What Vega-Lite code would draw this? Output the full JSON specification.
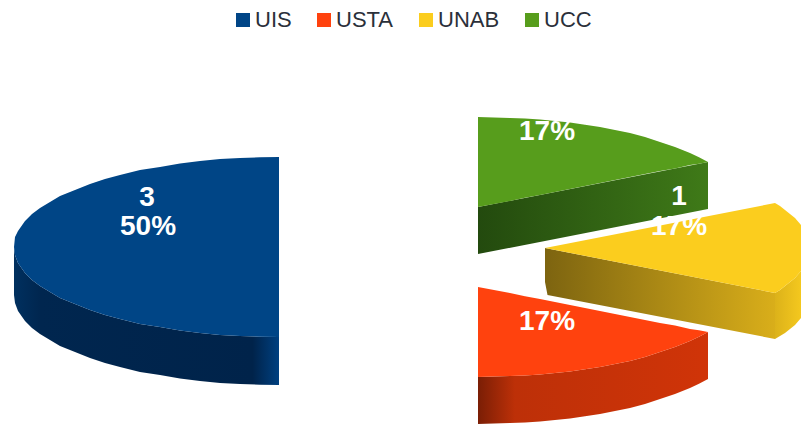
{"$schema":"https://vega.github.io/schema/vega-lite/v6.json","width":801,"height":426,"padding":0,"autosize":"none","background":"white","config":{"view":{"stroke":null}},
"datasets":{"faces":[
{"series":"UIS","x":14,"y0":247,"y1":247},{"series":"UIS","x":15,"y0":237,"y1":255},{"series":"UIS","x":18,"y0":231,"y1":263},{"series":"UIS","x":25,"y0":221,"y1":273},{"series":"UIS","x":32,"y0":214,"y1":280},{"series":"UIS","x":40,"y0":208,"y1":286},{"series":"UIS","x":50,"y0":202,"y1":292},{"series":"UIS","x":60,"y0":196,"y1":298},{"series":"UIS","x":75,"y0":190,"y1":304},{"series":"UIS","x":90,"y0":184,"y1":310},{"series":"UIS","x":105,"y0":179,"y1":315},{"series":"UIS","x":120,"y0":175,"y1":319},{"series":"UIS","x":140,"y0":170,"y1":324},{"series":"UIS","x":160,"y0":167,"y1":327},{"series":"UIS","x":180,"y0":163.5,"y1":330.5},{"series":"UIS","x":200,"y0":161,"y1":333},{"series":"UIS","x":220,"y0":159,"y1":335},{"series":"UIS","x":240,"y0":158,"y1":336},{"series":"UIS","x":260,"y0":157.3,"y1":336.7},{"series":"UIS","x":279,"y0":157,"y1":337},
{"series":"UCC","x":478,"y0":117,"y1":207},{"series":"UCC","x":510,"y0":118,"y1":201},{"series":"UCC","x":525,"y0":118.4,"y1":197.8},{"series":"UCC","x":540,"y0":119.5,"y1":195},{"series":"UCC","x":555,"y0":120.9,"y1":191.9},{"series":"UCC","x":570,"y0":122.6,"y1":189},{"series":"UCC","x":585,"y0":124.7,"y1":186},{"series":"UCC","x":600,"y0":127,"y1":183},{"series":"UCC","x":615,"y0":130,"y1":180},{"series":"UCC","x":630,"y0":133,"y1":177},{"series":"UCC","x":645,"y0":137,"y1":174},{"series":"UCC","x":660,"y0":142,"y1":171},{"series":"UCC","x":675,"y0":147,"y1":168.4},{"series":"UCC","x":690,"y0":153,"y1":165},{"series":"UCC","x":699,"y0":157.3,"y1":163.7},{"series":"UCC","x":708,"y0":162,"y1":162},
{"series":"USTA","x":478,"y0":287,"y1":377},{"series":"USTA","x":510,"y0":293,"y1":376},{"series":"USTA","x":525,"y0":296.2,"y1":375.6},{"series":"USTA","x":540,"y0":299,"y1":374.5},{"series":"USTA","x":555,"y0":302.1,"y1":373.1},{"series":"USTA","x":570,"y0":305,"y1":371.4},{"series":"USTA","x":585,"y0":308,"y1":369.3},{"series":"USTA","x":600,"y0":311,"y1":367},{"series":"USTA","x":615,"y0":314,"y1":364},{"series":"USTA","x":630,"y0":317,"y1":361},{"series":"USTA","x":645,"y0":320,"y1":357},{"series":"USTA","x":660,"y0":323,"y1":352},{"series":"USTA","x":675,"y0":325.6,"y1":347},{"series":"USTA","x":690,"y0":329,"y1":341},{"series":"USTA","x":699,"y0":330.3,"y1":336.7},{"series":"USTA","x":708,"y0":332,"y1":332},
{"series":"UNAB","x":545,"y0":248,"y1":248},{"series":"UNAB","x":775,"y0":203,"y1":293},{"series":"UNAB","x":780,"y0":206,"y1":290},{"series":"UNAB","x":785,"y0":210,"y1":286},{"series":"UNAB","x":790,"y0":214,"y1":282},{"series":"UNAB","x":795,"y0":218,"y1":278},{"series":"UNAB","x":801,"y0":225,"y1":271}
],
"sides":[
{"part":"UIS","x":14,"y0":247,"y1":295},{"part":"UIS","x":15,"y0":255,"y1":303},{"part":"UIS","x":18,"y0":263,"y1":311},{"part":"UIS","x":25,"y0":273,"y1":321},{"part":"UIS","x":32,"y0":280,"y1":328},{"part":"UIS","x":40,"y0":286,"y1":334},{"part":"UIS","x":50,"y0":292,"y1":340},{"part":"UIS","x":60,"y0":298,"y1":346},{"part":"UIS","x":75,"y0":304,"y1":352},{"part":"UIS","x":90,"y0":310,"y1":358},{"part":"UIS","x":105,"y0":315,"y1":363},{"part":"UIS","x":120,"y0":319,"y1":367},{"part":"UIS","x":140,"y0":324,"y1":372},{"part":"UIS","x":160,"y0":327,"y1":375},{"part":"UIS","x":180,"y0":330.5,"y1":378.5},{"part":"UIS","x":200,"y0":333,"y1":381},{"part":"UIS","x":220,"y0":335,"y1":383},{"part":"UIS","x":240,"y0":336,"y1":384},{"part":"UIS","x":260,"y0":336.7,"y1":384.7},{"part":"UIS","x":279,"y0":337,"y1":385},
{"part":"UCC","x":478,"y0":207,"y1":254},{"part":"UCC","x":708,"y0":162,"y1":209},
{"part":"USTA","x":478,"y0":377,"y1":424},{"part":"USTA","x":510,"y0":376,"y1":423},{"part":"USTA","x":525,"y0":375.6,"y1":422.6},{"part":"USTA","x":540,"y0":374.5,"y1":421.5},{"part":"USTA","x":555,"y0":373.1,"y1":420.1},{"part":"USTA","x":570,"y0":371.4,"y1":418.4},{"part":"USTA","x":585,"y0":369.3,"y1":416.3},{"part":"USTA","x":600,"y0":367,"y1":414},{"part":"USTA","x":615,"y0":364,"y1":411},{"part":"USTA","x":630,"y0":361,"y1":408},{"part":"USTA","x":645,"y0":357,"y1":404},{"part":"USTA","x":660,"y0":352,"y1":399},{"part":"USTA","x":675,"y0":347,"y1":394},{"part":"USTA","x":690,"y0":341,"y1":388},{"part":"USTA","x":699,"y0":336.7,"y1":383.7},{"part":"USTA","x":708,"y0":332,"y1":379},
{"part":"UNAB front","x":545,"y0":248,"y1":282},{"part":"UNAB front","x":547.5,"y0":248.5,"y1":295},{"part":"UNAB front","x":775,"y0":293,"y1":339},
{"part":"UNAB edge","x":775,"y0":293,"y1":339},{"part":"UNAB edge","x":780,"y0":290,"y1":336},{"part":"UNAB edge","x":785,"y0":286,"y1":333},{"part":"UNAB edge","x":790,"y0":282,"y1":329},{"part":"UNAB edge","x":795,"y0":278,"y1":325},{"part":"UNAB edge","x":801,"y0":271,"y1":318}
],
"labels":[
{"label":"3","x":147,"y":198},{"label":"50%","x":148,"y":227},
{"label":"17%","x":547,"y":132},
{"label":"1","x":679,"y":197},{"label":"17%","x":679,"y":227},
{"label":"17%","x":547,"y":322}
]},
"layer":[
{"data":{"name":"sides"},"transform":[{"filter":"datum.part==='UIS'"}],"mark":{"type":"area","orient":"vertical","opacity":1,"color":{"gradient":"linear","x1":0,"x2":1,"y1":0,"y2":0,"stops":[{"offset":0,"color":"#00305f"},{"offset":0.1,"color":"#00264f"},{"offset":0.9,"color":"#00234a"},{"offset":1,"color":"#004080"}]}},"encoding":{"x":{"field":"x","type":"quantitative","scale":{"domain":[0,801],"nice":false,"zero":false},"axis":null},"y":{"field":"y0","type":"quantitative","scale":{"domain":[0,426],"nice":false,"zero":false,"reverse":true},"axis":null},"y2":{"field":"y1"}}},
{"data":{"name":"sides"},"transform":[{"filter":"datum.part==='UCC'"}],"mark":{"type":"area","orient":"vertical","opacity":1,"color":{"gradient":"linear","x1":0,"x2":1,"y1":0,"y2":0,"stops":[{"offset":0,"color":"#234a0e"},{"offset":1,"color":"#3f7a18"}]}},"encoding":{"x":{"field":"x","type":"quantitative","axis":null},"y":{"field":"y0","type":"quantitative","axis":null},"y2":{"field":"y1"}}},
{"data":{"name":"sides"},"transform":[{"filter":"datum.part==='USTA'"}],"mark":{"type":"area","orient":"vertical","opacity":1,"color":{"gradient":"linear","x1":0,"x2":1,"y1":0,"y2":0,"stops":[{"offset":0,"color":"#7a1e05"},{"offset":0.16,"color":"#bd3008"},{"offset":1,"color":"#d03408"}]}},"encoding":{"x":{"field":"x","type":"quantitative","axis":null},"y":{"field":"y0","type":"quantitative","axis":null},"y2":{"field":"y1"}}},
{"data":{"name":"sides"},"transform":[{"filter":"datum.part==='UNAB front'"}],"mark":{"type":"area","orient":"vertical","opacity":1,"color":{"gradient":"linear","x1":0,"x2":1,"y1":0,"y2":0,"stops":[{"offset":0,"color":"#7d6410"},{"offset":1,"color":"#d9ae1a"}]}},"encoding":{"x":{"field":"x","type":"quantitative","axis":null},"y":{"field":"y0","type":"quantitative","axis":null},"y2":{"field":"y1"}}},
{"data":{"name":"sides"},"transform":[{"filter":"datum.part==='UNAB edge'"}],"mark":{"type":"area","orient":"vertical","opacity":1,"color":{"gradient":"linear","x1":0,"x2":1,"y1":0,"y2":0,"stops":[{"offset":0,"color":"#dcb21a"},{"offset":1,"color":"#f4c81e"}]}},"encoding":{"x":{"field":"x","type":"quantitative","axis":null},"y":{"field":"y0","type":"quantitative","axis":null},"y2":{"field":"y1"}}},
{"data":{"name":"faces"},"mark":{"type":"area","orient":"vertical","opacity":1},"encoding":{"x":{"field":"x","type":"quantitative","axis":null},"y":{"field":"y0","type":"quantitative","axis":null},"y2":{"field":"y1"},"color":{"field":"series","type":"nominal","scale":{"domain":["UIS","USTA","UNAB","UCC"],"range":["#004586","#ff420e","#fbcd1e","#579d1c"]},"legend":{"title":null,"orient":"none","legendX":232,"legendY":9,"direction":"horizontal","symbolType":"square","symbolSize":196,"symbolStrokeWidth":0,"symbolOpacity":1,"labelFont":"Liberation Sans","labelFontSize":22,"labelColor":"#2b303a","labelOffset":1,"columnPadding":21,"padding":0,"labelLimit":200}}}},
{"data":{"name":"labels"},"mark":{"type":"text","font":"Liberation Sans","fontWeight":"bold","fontSize":28,"color":"white","align":"center","baseline":"middle"},"encoding":{"x":{"field":"x","type":"quantitative","axis":null},"y":{"field":"y","type":"quantitative","axis":null},"text":{"field":"label","type":"nominal"}}}
]}
